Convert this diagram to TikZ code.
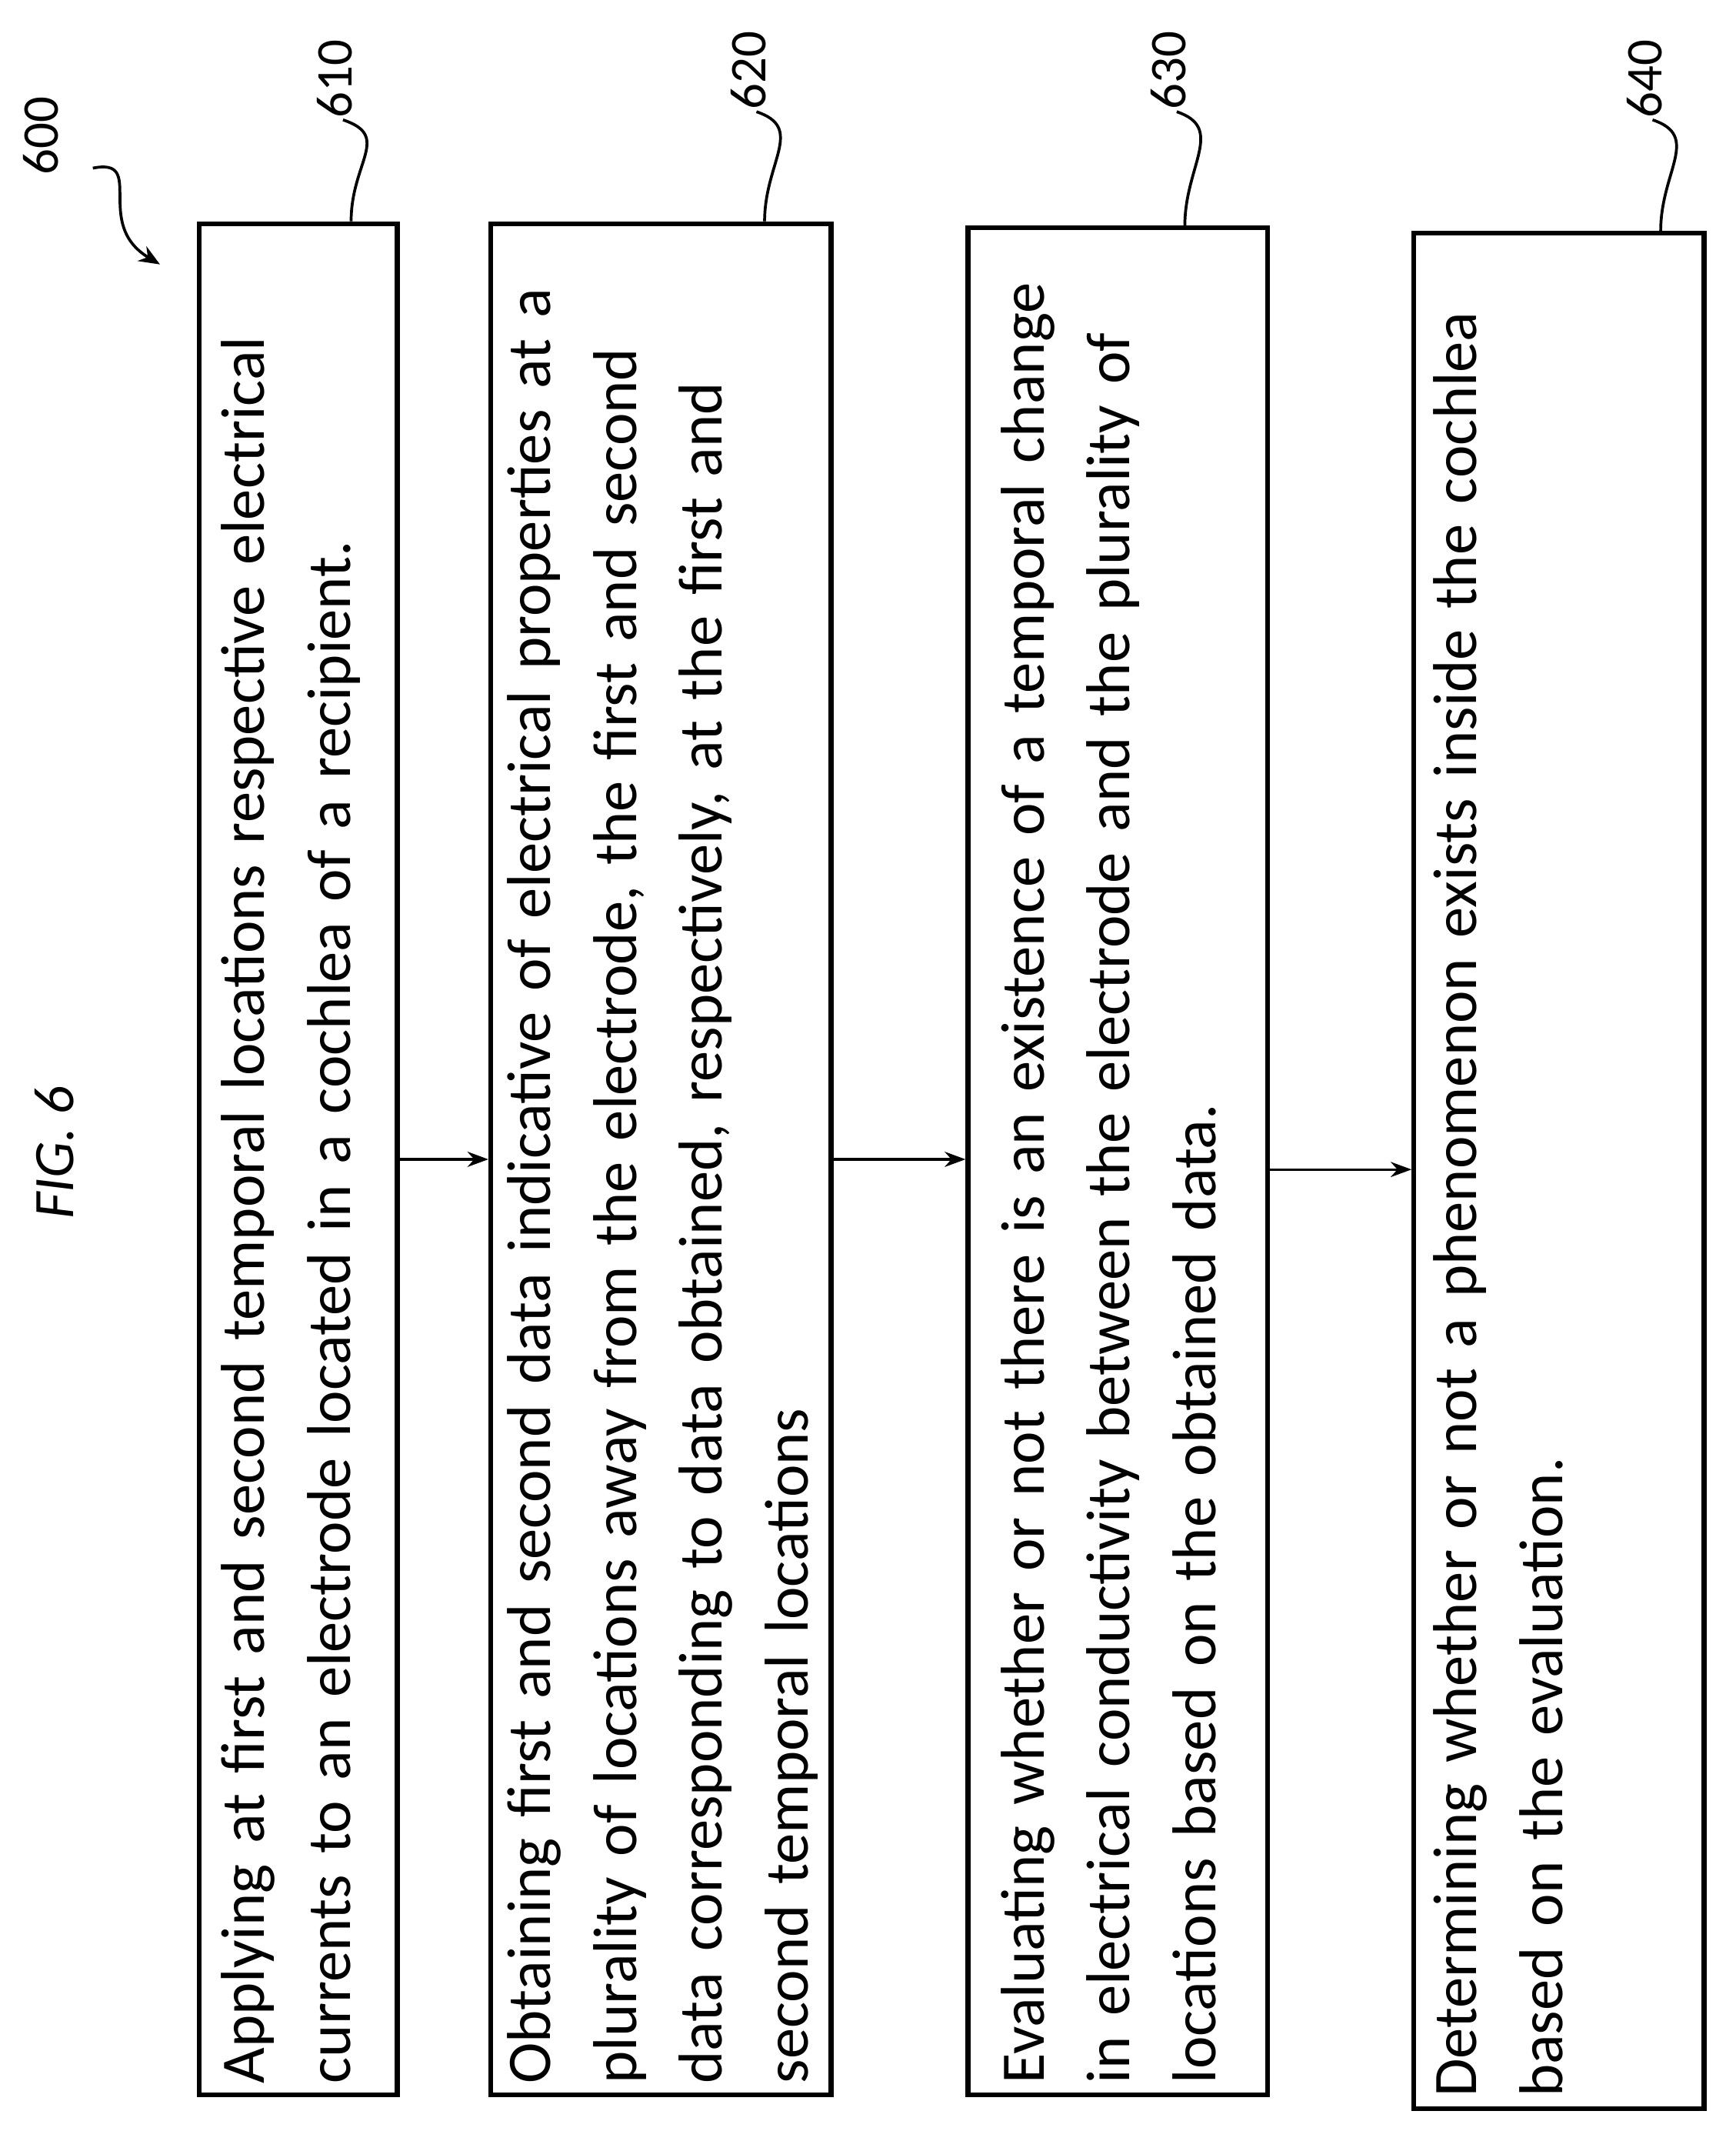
\documentclass[tikz,border=0pt]{standalone}
\usepackage{fontspec}
\setmainfont{Carlito}
\usetikzlibrary{arrows.meta, positioning}

\tikzset{
  stepbox/.style={draw, line width=5pt, inner sep=0pt},
  steptext/.style={rotate=90, anchor=north west, align=left, inner sep=0pt,
    text width=67.5cm, font=\fontsize{65}{90}\selectfont},
  reflabel/.style={rotate=90, font=\fontsize{54}{60}\selectfont, inner sep=2pt},
  flow/.style={line width=2.5pt, -{Stealth[length=22pt, width=16pt]}},
  lead/.style={line width=3pt}
}
\hyphenpenalty=10000
\exhyphenpenalty=10000

\begin{document}
\begin{tikzpicture}
\useasboundingbox (0,0) rectangle (64,-78.95);

% step boxes
\node[stepbox, minimum width=7.3cm, minimum height=69cm] (b610) at (11,-42.75) {};
\node[stepbox, minimum width=12.55cm, minimum height=69cm] (b620) at (24.375,-42.75) {};
\node[stepbox, minimum width=11.05cm, minimum height=68.85cm] (b630) at (41.225,-42.825) {};
\node[stepbox, minimum width=10.7cm, minimum height=69.15cm] (b640) at (57.5,-43.175) {};

% step texts
\node[steptext] (t610) at ([xshift=0.9cm, yshift=0.5cm]b610.south west)
  {Applying at first and second temporal locations respective electrical currents to an electrode located in a cochlea of a recipient.};
\node[steptext] (t620) at ([xshift=0.7cm, yshift=0.5cm]b620.south west)
  {Obtaining first and second data indicative of electrical properties at a plurality of locations away from the electrode, the first and second data corresponding to data obtained, respectively, at the first and second temporal locations};
\node[steptext] (t630) at ([xshift=1.3cm, yshift=0.5cm]b630.south west)
  {Evaluating whether or not there is an existence of a temporal change in electrical conductivity between the electrode and the plurality of locations based on the obtained data.};
\node[steptext] (t640) at ([xshift=0.8cm, yshift=0.5cm]b640.south west)
  {Determining whether or not a phenomenon exists inside the cochlea based on the evaluation.};

% flow
\draw[flow] (b610.east) -- (b620.west |- b610.east);
\draw[flow] (b620.east) -- (b630.west |- b620.east);
\coordinate (f630) at ([yshift=-0.3cm]b630.east);
\draw[flow] (f630) -- (b640.west |- f630);

% reference numerals
\node[reflabel] (l610) at (12.35,-2.9) {610};
\node[reflabel] (l620) at (27.6,-2.6) {620};
\node[reflabel] (l630) at (43.1,-2.6) {630};
\node[reflabel] (l640) at (60.65,-2.9) {640};
\foreach \n in {610,620,630,640}
  \draw[lead] ([xshift=0.3cm]l\n.west) .. controls +(1.8,-0.6) and +(0,2.2) .. ([xshift=0.6cm]b\n.north -| l\n.west);

\node[reflabel] (l600) at (1.5,-5) {600};
\coordinate (a600) at (5.9,-9.75);
\draw[lead, -{Stealth[length=22pt, width=18pt]}] (l600.south) ++(1.2,-1.2) .. controls +(2,0.4) and +(-2.5,1.5) .. (a600);

\node[rotate=90, font=\fontsize{60}{66}\selectfont\itshape] (fig) at (2,-42.5) {FIG. 6};
\end{tikzpicture}
\end{document}
